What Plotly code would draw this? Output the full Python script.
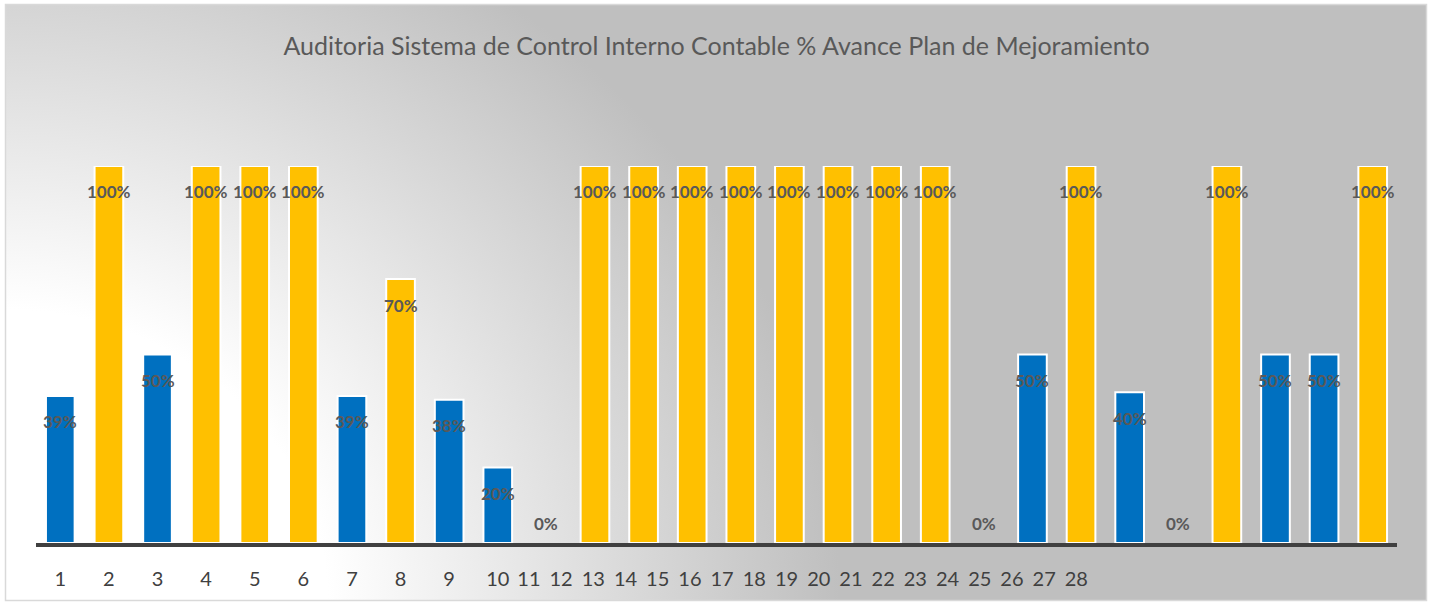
import base64
import plotly.graph_objects as go

titulo = "Auditoria Sistema de Control Interno Contable % Avance Plan de Mejoramiento"
categorias = [str(i) for i in range(1, 29)]
avance = [0.39, 1.00, 0.50, 1.00, 1.00, 1.00, 0.39, 0.70, 0.38, 0.20,
          0.00, 1.00, 1.00, 1.00, 1.00, 1.00, 1.00, 1.00, 1.00, 0.00,
          0.50, 1.00, 0.40, 0.00, 1.00, 0.50, 0.50, 1.00]

AZUL = "#0070C0"
AMARILLO = "#FFC000"
colores = [AMARILLO if v >= 0.7 else AZUL for v in avance]
bordes = [2 if v > 0 else 0 for v in avance]

W, H = 1433, 604

# fondo degradado (radial desde la esquina inferior izquierda)
svg = f"""<svg xmlns='http://www.w3.org/2000/svg' width='{W}' height='{H}' viewBox='0 0 {W} {H}'>
<defs><radialGradient id='g' gradientUnits='userSpaceOnUse' cx='0' cy='604' r='840'
gradientTransform='translate(0 604) scale(1 0.9) translate(0 -604)'>
<stop offset='0.39' stop-color='#FFFFFF'/><stop offset='1' stop-color='#BFBFBF'/>
</radialGradient></defs>
<rect width='{W}' height='{H}' fill='#FFFFFF'/>
<rect x='5.5' y='4.5' width='1421' height='596' fill='url(#g)' stroke='#D9D9D9' stroke-width='1.5'/>
</svg>"""
fondo = "data:image/svg+xml;base64," + base64.b64encode(svg.encode()).decode()

x = list(range(len(avance)))

# las etiquetas del eje vienen "apretadas" a partir de la 11 en el original
paso = 32.2 / 48.6
pos_ticks = list(range(10)) + [9.64 + paso * i for i in range(18)]

fig = go.Figure(go.Bar(
    x=x, y=avance,
    marker=dict(color=colores, line=dict(color="white", width=bordes)),
    hoverinfo="skip",
))

for i, v in zip(x, avance):
    fig.add_annotation(
        x=i, y=v, text=f"{round(v * 100)}%", showarrow=False,
        yshift=-26 if v > 0 else 20,
        font=dict(family="Lato", size=17, color="#595959", weight="bold"),
    )

fig.update_layout(
    width=W, height=H,
    margin=dict(l=0, r=0, t=0, b=0),
    paper_bgcolor="white",
    plot_bgcolor="rgba(0,0,0,0)",
    showlegend=False,
    bargap=0.41,
    title=dict(text=titulo, x=0.5, xanchor="center", y=1 - 46 / H, yanchor="middle",
               yref="container", font=dict(family="Lato", size=25, color="#595959")),
    images=[dict(source=fondo, xref="paper", yref="paper", x=0, y=1, sizex=1, sizey=1,
                 xanchor="left", yanchor="top", sizing="stretch", layer="below")],
    xaxis=dict(
        domain=[36 / W, 1397 / W], range=[-0.5, 27.5], automargin=False,
        showgrid=False, zeroline=False, showline=True, linecolor="#404040", linewidth=4,
        tickmode="array", tickvals=pos_ticks, ticktext=categorias,
        ticks="outside", ticklen=15, tickcolor="rgba(0,0,0,0)",
        tickfont=dict(family="Lato", size=20, color="#404040"),
    ),
    yaxis=dict(
        domain=[(H - 543) / H, (H - 166) / H], range=[0, 1], automargin=False,
        showgrid=False, zeroline=False, showline=False, showticklabels=False,
    ),
)

fig.write_html("out.html", config={"displayModeBar": False},
               post_script="document.body.style.margin='0';")
